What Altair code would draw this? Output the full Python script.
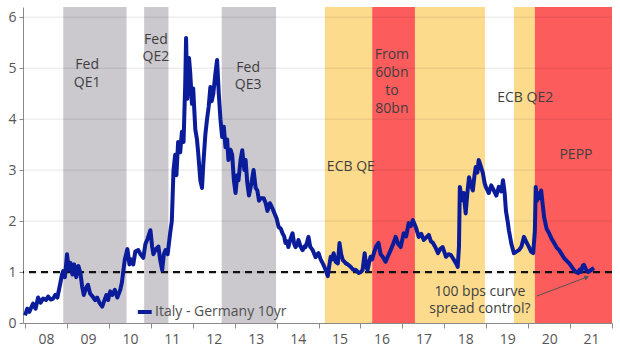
import altair as alt
import pandas as pd

# ---- data ----
dates = [
    2008.00, 2008.05, 2008.10, 2008.19, 2008.25, 2008.31, 2008.37, 2008.43, 2008.50, 2008.55,
    2008.61, 2008.67, 2008.72, 2008.77, 2008.84, 2008.88, 2008.91, 2008.95, 2009.00, 2009.04,
    2009.08, 2009.13, 2009.17, 2009.22, 2009.27, 2009.32, 2009.36, 2009.40, 2009.46, 2009.50,
    2009.55, 2009.61, 2009.67, 2009.72, 2009.77, 2009.84, 2009.88, 2009.94, 2009.98, 2010.03,
    2010.08, 2010.14, 2010.20, 2010.27, 2010.31, 2010.34, 2010.38, 2010.44, 2010.49, 2010.53,
    2010.58, 2010.63, 2010.70, 2010.75, 2010.82, 2010.87, 2010.92, 2010.99, 2011.03, 2011.06,
    2011.12, 2011.18, 2011.22, 2011.27, 2011.31, 2011.35, 2011.40, 2011.46, 2011.50, 2011.54,
    2011.58, 2011.61, 2011.65, 2011.70, 2011.74, 2011.78, 2011.82, 2011.84, 2011.87, 2011.91,
    2011.94, 2011.98, 2012.01, 2012.06, 2012.10, 2012.13, 2012.18, 2012.22, 2012.25, 2012.30,
    2012.34, 2012.38, 2012.42, 2012.45, 2012.49, 2012.54, 2012.58, 2012.62, 2012.66, 2012.70,
    2012.74, 2012.78, 2012.82, 2012.85, 2012.90, 2012.94, 2012.98, 2013.02, 2013.06, 2013.09,
    2013.14, 2013.18, 2013.23, 2013.26, 2013.30, 2013.34, 2013.40, 2013.45, 2013.50, 2013.54,
    2013.58, 2013.62, 2013.69, 2013.74, 2013.78, 2013.84, 2013.90, 2013.95, 2014.00, 2014.05,
    2014.10, 2014.14, 2014.18, 2014.21, 2014.25, 2014.28, 2014.33, 2014.38, 2014.42, 2014.45,
    2014.50, 2014.52, 2014.57, 2014.62, 2014.66, 2014.69, 2014.73, 2014.76, 2014.80, 2014.86,
    2014.90, 2014.93, 2014.97, 2015.00, 2015.05, 2015.10, 2015.14, 2015.17, 2015.22, 2015.26,
    2015.29, 2015.33, 2015.36, 2015.41, 2015.46, 2015.50, 2015.54, 2015.58, 2015.62, 2015.65,
    2015.70, 2015.77, 2015.82, 2015.89, 2015.96, 2016.01, 2016.05, 2016.10, 2016.14, 2016.17,
    2016.21, 2016.24, 2016.28, 2016.32, 2016.37, 2016.43, 2016.48, 2016.53, 2016.60, 2016.65,
    2016.72, 2016.78, 2016.84, 2016.90, 2016.96, 2017.03, 2017.09, 2017.15, 2017.20, 2017.25,
    2017.32, 2017.39, 2017.45, 2017.51, 2017.57, 2017.63, 2017.68, 2017.73, 2017.79, 2017.85,
    2017.90, 2017.96, 2018.04, 2018.10, 2018.16, 2018.22, 2018.28, 2018.32, 2018.35, 2018.37,
    2018.42, 2018.46, 2018.51, 2018.55, 2018.59, 2018.64, 2018.68, 2018.72, 2018.75, 2018.79,
    2018.82, 2018.86, 2018.92, 2018.96, 2018.99, 2019.03, 2019.06, 2019.12, 2019.18, 2019.24,
    2019.30, 2019.36, 2019.40, 2019.44, 2019.47, 2019.51, 2019.54, 2019.60, 2019.66, 2019.72,
    2019.78, 2019.84, 2019.90, 2019.95, 2020.02, 2020.07, 2020.12, 2020.16, 2020.18, 2020.21,
    2020.23, 2020.27, 2020.31, 2020.35, 2020.38, 2020.44, 2020.50, 2020.56, 2020.62, 2020.68,
    2020.74, 2020.80, 2020.86, 2020.92, 2020.98, 2021.04, 2021.09, 2021.14, 2021.19, 2021.23,
    2021.26, 2021.30, 2021.33, 2021.38, 2021.43, 2021.50, 2021.57,
]
spread = [
    0.15, 0.28, 0.22, 0.38, 0.28, 0.50, 0.40, 0.48, 0.45, 0.52,
    0.46, 0.48, 0.55, 0.50, 0.78, 0.95, 1.02, 0.90, 1.35, 1.05,
    1.18, 0.95, 1.15, 0.90, 1.12, 0.98, 0.72, 0.55, 0.70, 0.75,
    0.58, 0.52, 0.45, 0.50, 0.40, 0.32, 0.42, 0.55, 0.45, 0.62,
    0.55, 0.65, 0.50, 0.65, 0.80, 1.00, 1.25, 1.45, 1.15, 1.25,
    1.15, 1.40, 1.43, 1.35, 1.28, 1.55, 1.65, 1.82, 1.50, 1.35,
    1.45, 1.50, 1.25, 1.04, 1.35, 1.43, 1.35, 1.76, 2.00, 3.00,
    3.30, 2.90, 3.55, 3.35, 3.75, 3.55, 4.70, 5.59, 4.40, 5.20,
    4.90, 4.30, 4.60, 3.80, 3.60, 3.33, 2.80, 2.65, 3.10, 3.70,
    4.00, 4.25, 4.63, 4.35, 4.50, 4.90, 5.16, 4.50, 4.00, 3.65,
    3.85, 3.45, 3.60, 3.20, 3.40, 3.30, 2.80, 2.55, 2.90, 2.80,
    3.20, 3.39, 3.00, 3.20, 2.75, 2.50, 2.75, 3.00, 2.65, 2.60,
    2.40, 2.45, 2.45, 2.35, 2.20, 2.35, 2.25, 2.15, 2.05, 1.88,
    1.85, 1.76, 1.70, 1.57, 1.60, 1.49, 1.65, 1.76, 1.55, 1.49,
    1.55, 1.63, 1.50, 1.43, 1.50, 1.49, 1.60, 1.69, 1.50, 1.43,
    1.35, 1.29, 1.35, 1.37, 1.25, 1.17, 1.10, 1.04, 0.92, 1.15,
    1.30, 1.25, 1.37, 1.20, 1.17, 1.57, 1.35, 1.23, 1.20, 1.17,
    1.15, 1.10, 1.05, 1.04, 0.98, 1.00, 1.04, 1.37, 1.10, 1.04,
    1.20, 1.30, 1.25, 1.37, 1.50, 1.57, 1.35, 1.30, 1.20, 1.30,
    1.43, 1.55, 1.69, 1.55, 1.49, 1.76, 1.70, 1.96, 1.90, 2.02,
    1.88, 1.69, 1.75, 1.63, 1.68, 1.73, 1.60, 1.57, 1.48, 1.37,
    1.45, 1.49, 1.30, 1.35, 1.33, 1.25, 1.17, 1.10, 1.50, 2.67,
    2.41, 2.55, 2.15, 2.55, 2.86, 2.70, 2.60, 2.90, 3.06, 2.95,
    3.20, 3.10, 2.94, 2.75, 2.67, 2.60, 2.55, 2.70, 2.60, 2.50,
    2.67, 2.58, 2.80, 2.55, 2.20, 2.00, 1.82, 1.55, 1.37, 1.40,
    1.43, 1.50, 1.69, 1.60, 1.49, 1.40, 1.37, 1.80, 2.67, 2.40,
    2.55, 2.45, 2.60, 2.30, 2.08, 1.85, 1.76, 1.65, 1.57, 1.48,
    1.43, 1.35, 1.27, 1.22, 1.17, 1.10, 1.04, 1.00, 0.98, 1.05,
    1.00, 1.12, 1.14, 1.05, 1.00, 1.04, 1.08,
]

band_start = [2008.91, 2010.84, 2012.69, 2015.15, 2016.28, 2017.30, 2019.66, 2020.16]
band_end = [2010.42, 2011.42, 2013.985, 2016.28, 2017.30, 2018.97, 2020.16, 2022.0]
band_kind = ["fed", "fed", "fed", "ecb", "step", "ecb", "ecb", "step"]

# one row per text line
label_text = ["Fed", "QE1", "Fed", "QE2", "Fed", "QE3", "ECB QE",
              "From", "60bn", "to", "80bn", "ECB QE2", "PEPP",
              "100 bps curve", "spread control?"]
label_x = [2009.48, 2009.48, 2011.12, 2011.12, 2013.32, 2013.32, 2015.77,
           2016.75, 2016.75, 2016.75, 2016.75, 2019.93, 2021.14,
           2018.85, 2018.85]
label_y = [5.059, 4.711, 5.559, 5.212, 5.010, 4.663, 3.061,
           5.258, 4.909, 4.560, 4.205, 4.414, 3.296,
           0.615, 0.268]

year_ticks = list(range(2008, 2023))
y_ticks = [0, 1, 2, 3, 4, 5, 6]
threshold = [1.0]

arrow_x = [2020.21, 2021.40]
arrow_y = [0.53, 0.90]

legend_label = "Italy - Germany 10yr"
legend_x = [2010.69, 2011.02]
legend_y = [0.216, 0.216]

# ---- style ----
FONT = "Open Sans"
BLUE = "#0b1c9a"
TXT = "#3f3f3f"
colors = {"fed": "#cbc9ce", "ecb": "#fddb8d", "step": "#fd5c5c"}

xs = alt.Scale(domain=[2007.95, 2022.0], nice=False, zero=False)
ys = alt.Scale(domain=[0, 6.2], nice=False, zero=True)

xaxis = alt.Axis(
    values=year_ticks, title=None, grid=False, tickSize=5, tickColor="#8a8a8a",
    domainColor="#8a8a8a", labelOffset=21, labelPadding=4, labelFontSize=14,
    labelColor="#555555", labelFont=FONT,
    labelExpr="datum.value >= 2022 ? '' : substring(toString(datum.value), 2, 4)",
)
yaxis = alt.Axis(
    values=y_ticks, title=None, grid=False, tickSize=4, tickColor="#8a8a8a",
    domainColor="#8a8a8a", labelPadding=3, labelFontSize=14, labelColor="#555555",
    labelFont=FONT,
)

line_df = pd.DataFrame({"t": dates, "v": spread})
band_df = pd.DataFrame({"s": band_start, "e": band_end, "k": band_kind})
grid_df = pd.DataFrame({"g": y_ticks[1:]})
thr_df = pd.DataFrame({"g": threshold})
lab_df = pd.DataFrame({"t": label_x, "v": label_y, "txt": label_text})
arrow_df = pd.DataFrame({"t": arrow_x, "v": arrow_y, "o": [0, 1]})
head_df = pd.DataFrame({"t": [arrow_x[1]], "v": [arrow_y[1]]})
leg_df = pd.DataFrame({"t": legend_x, "v": legend_y})
legtxt_df = pd.DataFrame({"t": [2011.10], "v": [0.216], "txt": [legend_label]})

X = lambda f: alt.X(f, scale=xs, axis=xaxis)
Y = lambda f: alt.Y(f, scale=ys, axis=yaxis)

bands = alt.Chart(band_df).mark_rect().encode(
    x=X("s:Q"),
    x2="e:Q",
    y=alt.value(0),
    y2=alt.value(316),
    color=alt.Color("k:N", scale=alt.Scale(domain=list(colors.keys()),
                                           range=list(colors.values())), legend=None),
)

grid = alt.Chart(grid_df).mark_rule(color="#000000", opacity=0.1, strokeWidth=1).encode(
    y=Y("g:Q"),
)

thr = alt.Chart(thr_df).mark_rule(color="#111111", strokeWidth=2.2, strokeDash=[7, 5]).encode(
    y=Y("g:Q"),
)

line = alt.Chart(line_df).mark_line(color=BLUE, strokeWidth=4.0, strokeJoin="round").encode(
    x=X("t:Q"), y=Y("v:Q"),
)

labels = alt.Chart(lab_df).mark_text(
    font=FONT, fontSize=14, color=TXT, align="center", baseline="middle",
).encode(
    x=X("t:Q"), y=Y("v:Q"), text="txt:N",
)

arrow = alt.Chart(arrow_df).mark_line(color="#555555", strokeWidth=1).encode(
    x=X("t:Q"), y=Y("v:Q"), order="o:Q",
)
head = alt.Chart(head_df).mark_point(
    shape="triangle-up", angle=69, size=28, filled=True, color="#555555", opacity=1
).encode(
    x=X("t:Q"), y=Y("v:Q"),
)

leg_line = alt.Chart(leg_df).mark_line(color=BLUE, strokeWidth=4.0).encode(
    x=X("t:Q"), y=Y("v:Q"),
)
leg_text = alt.Chart(legtxt_df).mark_text(
    font=FONT, fontSize=14, color="#505050", align="left", baseline="middle"
).encode(
    x=X("t:Q"), y=Y("v:Q"), text="txt:N",
)

chart = alt.layer(bands, grid, thr, line, labels, arrow, head, leg_line, leg_text).properties(
    width=589, height=316,
    padding={"left": 23, "top": 7, "right": 8, "bottom": 28},
    autosize=alt.AutoSizeParams(type="none"),
    background="white",
).configure_view(strokeWidth=0)

chart.save("out.html", embed_options={"renderer": "svg", "actions": False})
